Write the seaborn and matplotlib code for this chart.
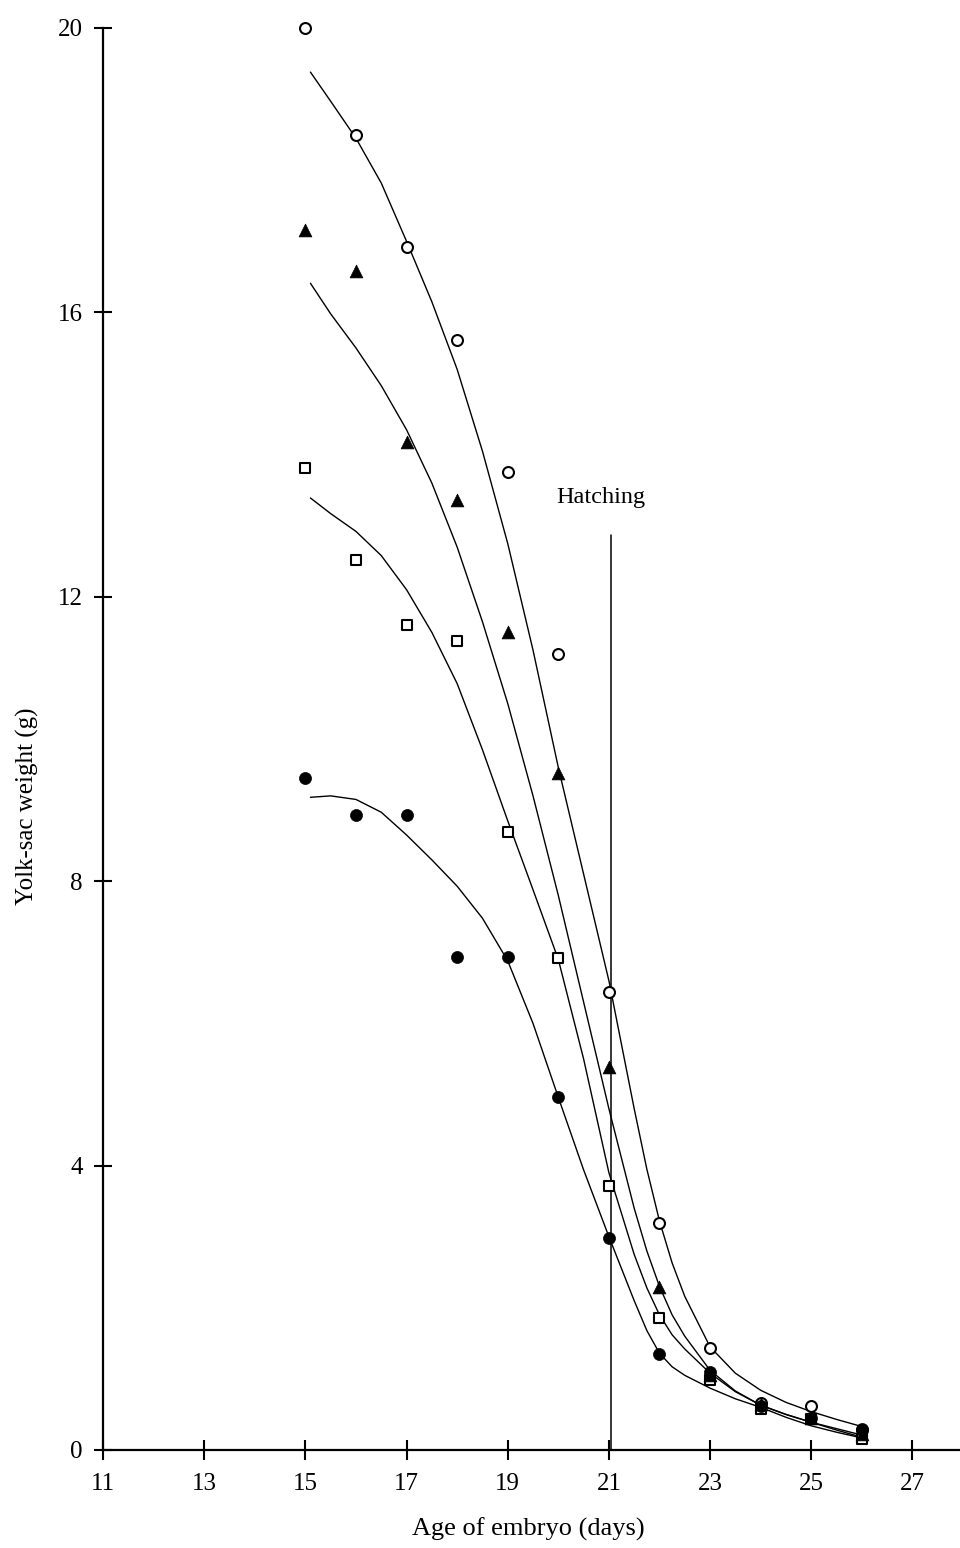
import numpy as np
import pandas as pd
import matplotlib
matplotlib.use("Agg")
import matplotlib.pyplot as plt
import seaborn as sns

# ---------------- data ----------------
days = [15, 16, 17, 18, 19, 20, 21, 22, 23, 24, 25, 26]

open_circle = [20.0, 18.49, 16.92, 15.61, 13.76, 11.2, 6.44, 3.19, 1.43, 0.66, 0.62, 0.28]
triangle    = [17.16, 16.58, 14.18, 13.36, 11.5, 9.52, 5.39, 2.29, 1.05, 0.65, 0.45, 0.22]
open_square = [13.81, 12.52, 11.6, 11.38, 8.69, 6.92, 3.71, 1.86, 0.98, 0.58, 0.43, 0.15]
filled_circ = [9.45, 8.93, 8.93, 6.93, 6.93, 4.96, 2.98, 1.35, 1.1, 0.62, 0.45, 0.3]

# fitted curves
curve_x = [15.1, 15.5, 16, 16.5, 17, 17.5, 18, 18.5, 19, 19.5, 20, 20.5,
           21, 21.5, 21.75, 22, 22.25, 22.5, 23, 23.5, 24, 24.5, 25, 25.5, 26]
curve_circle   = [19.38, 18.97, 18.45, 17.82, 17.0, 16.15, 15.2, 14.05, 12.75, 11.25, 9.6, 8.1,
                  6.6, 4.8, 3.95, 3.22, 2.63, 2.16, 1.45, 1.08, 0.84, 0.67, 0.54, 0.43, 0.33]
curve_triangle = [16.41, 15.98, 15.5, 14.97, 14.35, 13.6, 12.7, 11.65, 10.5, 9.2, 7.8, 6.3,
                  4.8, 3.4, 2.8, 2.3, 1.9, 1.6, 1.12, 0.83, 0.63, 0.5, 0.39, 0.3, 0.21]
curve_square   = [13.39, 13.17, 12.92, 12.58, 12.1, 11.5, 10.78, 9.85, 8.85, 7.88, 6.9, 5.5,
                  3.9, 2.75, 2.28, 1.9, 1.62, 1.42, 1.08, 0.82, 0.63, 0.5, 0.39, 0.28, 0.18]
curve_filled   = [9.18, 9.2, 9.15, 8.97, 8.65, 8.3, 7.93, 7.48, 6.88, 6.0, 4.96, 3.94,
                  3.0, 2.1, 1.68, 1.36, 1.17, 1.05, 0.87, 0.72, 0.6, 0.46, 0.34, 0.25, 0.17]

x_ticks = [11, 13, 15, 17, 19, 21, 23, 25, 27]
y_ticks = [0, 4, 8, 12, 16, 20]
hatch_day = 21.05
hatch_top = 12.87

# ---------------- figure ----------------
sns.set_theme(style="ticks")
plt.rcParams["font.family"] = ["Liberation Serif", "DejaVu Serif"]

fig = plt.figure(figsize=(9.6, 15.48), dpi=100)
ax = fig.add_axes([103 / 960, (1548 - 1450) / 1548, 1 - 103 / 960, (1450 - 28) / 1548])

curves = pd.DataFrame({
    "day": curve_x * 4,
    "weight": curve_circle + curve_triangle + curve_square + curve_filled,
    "group": ["circle"] * len(curve_x) + ["triangle"] * len(curve_x)
             + ["square"] * len(curve_x) + ["filled"] * len(curve_x),
})
for g in ["circle", "triangle", "square", "filled"]:
    sub = curves[curves["group"] == g]
    sns.lineplot(data=sub, x="day", y="weight", color="black", linewidth=1.0,
                 estimator=None, sort=True, ax=ax)

# hatching line
ax.plot([hatch_day, hatch_day], [0, hatch_top], color="black", linewidth=1.1)
ax.text(20.85, 13.4, "Hatching", ha="center", va="center", fontsize=17.5, color="black")

# markers
sns.scatterplot(x=days, y=open_circle, marker="o", s=62, facecolor="white",
                edgecolor="black", linewidth=1.5, ax=ax, zorder=3, clip_on=False)
sns.scatterplot(x=days, y=open_square, marker="s", s=58, facecolor="white",
                edgecolor="black", linewidth=1.5, ax=ax, zorder=4, clip_on=False)
sns.scatterplot(x=days, y=triangle, marker="^", s=85, color="black",
                edgecolor="black", linewidth=0.5, ax=ax, zorder=5, clip_on=False)
sns.scatterplot(x=days, y=filled_circ, marker="o", s=75, color="black",
                edgecolor="black", linewidth=0.5, ax=ax, zorder=5, clip_on=False)

ax.set_xlim(11, 27.94)
ax.set_ylim(0, 20)
ax.set_xticks(x_ticks)
ax.set_yticks(y_ticks)
ax.set_xticklabels([str(t) for t in x_ticks])
ax.set_yticklabels([str(t) for t in y_ticks])

for side in ["top", "right"]:
    ax.spines[side].set_visible(False)
for side in ["left", "bottom"]:
    ax.spines[side].set_linewidth(1.6)
    ax.spines[side].set_color("black")

ax.tick_params(axis="x", direction="inout", length=15, width=1.5, pad=9,
               labelsize=18, colors="black")
ax.tick_params(axis="y", direction="inout", length=13, width=1.5, pad=8,
               labelsize=18, colors="black")

ax.set_xlabel("Age of embryo (days)", fontsize=19, color="black")
ax.set_ylabel("Yolk-sac weight (g)", fontsize=18, color="black")
ax.xaxis.label.set_verticalalignment("center")
ax.yaxis.label.set_verticalalignment("center")
ax.xaxis.set_label_coords((528 - 103) / (960 - 103), -(1529 - 1450) / (1450 - 28))
ax.yaxis.set_label_coords(-(103 - 27) / (960 - 103), (1450 - 806) / (1450 - 28))

ax.set_facecolor("white")
fig.patch.set_facecolor("white")
fig.savefig("out.png", dpi=100, facecolor="white")
